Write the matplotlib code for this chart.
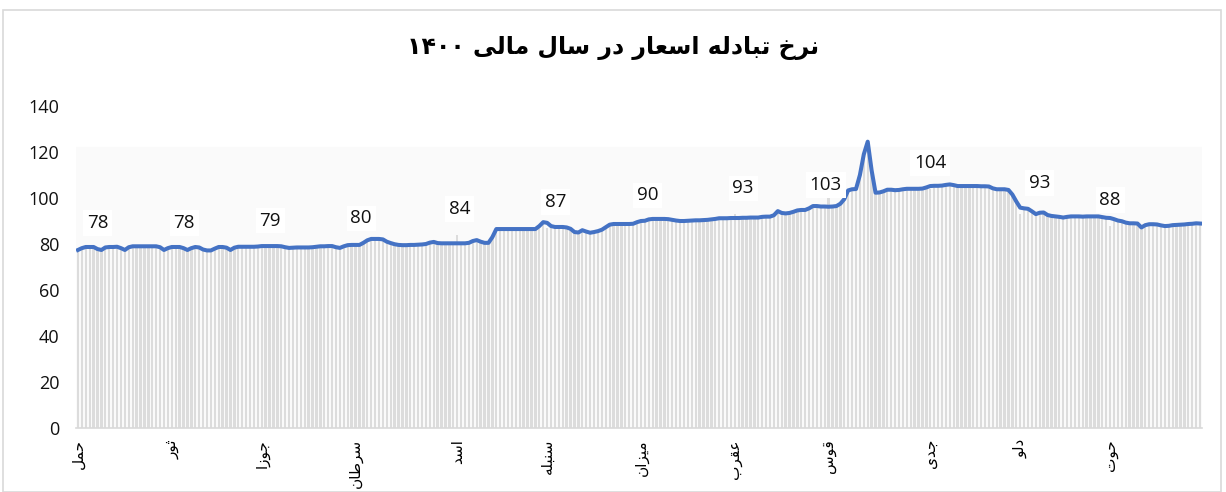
import re

import matplotlib
matplotlib.use("Agg")
import matplotlib.pyplot as plt
from matplotlib.patches import Rectangle
import numpy as np

# daily rate, one list per month
hamal = [77.4, 78.2, 78.7, 78.7, 78.7, 77.8, 77.4, 78.5, 78.7, 78.7, 78.8, 78.2,
         77.4, 78.6, 79.0, 79.0, 79.0, 79.0, 79.0, 79.0, 79.0, 78.6, 77.4, 78.2]
sawr = [78.7, 78.7, 78.7, 78.2, 77.4, 78.2, 78.7, 78.5, 77.6, 77.2, 77.2, 78.0,
        78.7, 78.7, 78.4, 77.4, 78.4, 78.8, 78.8, 78.8, 78.8, 78.8, 78.9]
jawza = [79.1, 79.1, 79.1, 79.1, 79.1, 79.0, 78.6, 78.3, 78.4, 78.5, 78.5, 78.5,
         78.5, 78.6, 78.8, 79.0, 79.0, 79.1, 79.1, 78.6, 78.3, 79.0, 79.5, 79.6]
saratan = [79.6, 79.6, 80.5, 81.6, 82.2, 82.2, 82.2, 82.0, 81.0, 80.4, 79.9, 79.6, 79.5,
           79.5, 79.6, 79.6, 79.7, 79.8, 80.0, 80.6, 80.9, 80.4, 80.3, 80.3, 80.3, 80.3]
asad = [80.3, 80.3, 80.3, 80.5, 81.3, 81.7, 81.0, 80.5, 80.5, 83.0, 86.5, 86.5,
        86.5, 86.5, 86.5, 86.5, 86.5, 86.5, 86.5, 86.5, 86.5, 87.8, 89.5]
sunbula = [89.2, 87.8, 87.4, 87.4, 87.4, 87.2, 86.6, 85.2, 85.0, 86.0, 85.4, 84.9,
           85.2, 85.6, 86.2, 87.3, 88.4, 88.7, 88.7, 88.7, 88.7, 88.7, 88.8, 89.5]
mizan = [90.0, 90.1, 90.7, 90.9, 90.9, 90.9, 90.9, 90.8, 90.5, 90.2, 90.0, 90.0,
         90.1, 90.2, 90.3, 90.3, 90.4, 90.5, 90.7, 90.9, 91.2, 91.2, 91.2, 91.3]
aqrab = [91.3, 91.3, 91.4, 91.4, 91.5, 91.5, 91.5, 91.8, 91.9, 91.9, 92.5, 94.3,
         93.5, 93.3, 93.5, 94.0, 94.6, 94.8, 94.8, 95.5, 96.5, 96.5, 96.3, 96.3]
qaws = [96.2, 96.3, 96.5, 97.5, 99.5, 103.3, 103.8, 103.9, 110.0, 119.0, 124.5, 112.0, 102.3,
        102.4, 102.9, 103.6, 103.6, 103.4, 103.5, 103.8, 104.0, 104.0, 104.0, 104.0, 104.1, 104.6]
jadi = [105.2, 105.3, 105.3, 105.4, 105.7, 105.9, 105.6, 105.2, 105.2, 105.2, 105.2, 105.2,
        105.2, 105.1, 105.1, 105.0, 104.2, 103.8, 103.8, 103.8, 103.5, 101.5, 98.5]
dalw = [95.8, 95.5, 95.3, 94.2, 93.0, 93.6, 93.7, 92.6, 92.2, 92.0, 91.8, 91.5,
        91.8, 92.0, 92.0, 92.0, 91.9, 92.0, 92.0, 92.0, 92.0, 91.7, 91.4]
hut = [91.3, 90.8, 90.2, 89.9, 89.3, 89.0, 89.0, 88.9, 87.2, 88.2, 88.6, 88.6,
       88.5, 88.1, 87.8, 87.9, 88.2, 88.3, 88.4, 88.5, 88.7, 88.8, 89.0, 88.9]

month_names = ["حمل", "ثور", "جوزا", "سرطان", "اسد", "سنبله",
               "میزان", "عقرب", "قوس", "جدی", "دلو", "حوت"]
month_avg = [78, 78, 79, 80, 84, 87, 90, 93, 103, 104, 93, 88]
title = "نرخ تبادله اسعار در سال مالی ۱۴۰۰"

months = [hamal, sawr, jawza, saratan, asad, sunbula,
          mizan, aqrab, qaws, jadi, dalw, hut]

# --- minimal arabic shaping (matplotlib has no complex text layout) ---
FORMS = {
    "ا": (0xFE8D, 0xFE8E), "د": (0xFEA9, 0xFEAA), "ذ": (0xFEAB, 0xFEAC),
    "ر": (0xFEAD, 0xFEAE), "ز": (0xFEAF, 0xFEB0), "و": (0xFEED, 0xFEEE),
    "ب": (0xFE8F, 0xFE90, 0xFE91, 0xFE92), "ت": (0xFE95, 0xFE96, 0xFE97, 0xFE98),
    "ث": (0xFE99, 0xFE9A, 0xFE9B, 0xFE9C), "ج": (0xFE9D, 0xFE9E, 0xFE9F, 0xFEA0),
    "ح": (0xFEA1, 0xFEA2, 0xFEA3, 0xFEA4), "خ": (0xFEA5, 0xFEA6, 0xFEA7, 0xFEA8),
    "س": (0xFEB1, 0xFEB2, 0xFEB3, 0xFEB4), "ط": (0xFEC1, 0xFEC2, 0xFEC3, 0xFEC4),
    "ع": (0xFEC9, 0xFECA, 0xFECB, 0xFECC), "ق": (0xFED5, 0xFED6, 0xFED7, 0xFED8),
    "ل": (0xFEDD, 0xFEDE, 0xFEDF, 0xFEE0), "م": (0xFEE1, 0xFEE2, 0xFEE3, 0xFEE4),
    "ن": (0xFEE5, 0xFEE6, 0xFEE7, 0xFEE8), "ه": (0xFEE9, 0xFEEA, 0xFEEB, 0xFEEC),
    "ی": (0xFBFC, 0xFBFD, 0xFBFE, 0xFBFF),
}


def shape(text):
    out = []
    for i, c in enumerate(text):
        if c not in FORMS:
            out.append(c)
            continue
        prev = text[i - 1] if i > 0 else ""
        nxt = text[i + 1] if i + 1 < len(text) else ""
        j_prev = prev in FORMS and len(FORMS[prev]) == 4
        j_next = nxt in FORMS and len(FORMS[c]) == 4
        f = FORMS[c]
        if j_prev and j_next:
            code = f[3]
        elif j_prev:
            code = f[1]
        elif j_next:
            code = f[2]
        else:
            code = f[0]
        out.append(chr(code))
    return "".join(out)


def rtl(text):
    rev = shape(text)[::-1]
    return re.sub(r"[0-9\u06F0-\u06F9]+", lambda m: m.group(0)[::-1], rev)


daily = np.concatenate(months)
starts = np.cumsum([0] + [len(m) for m in months[:-1]])
x = np.arange(len(daily))

bar_vals = daily.copy()
bar_vals[starts] = month_avg

fig = plt.figure(figsize=(12.26, 4.92), dpi=100)
ax = fig.add_axes([76 / 1226, 64 / 492, 1126 / 1226, 322 / 492])

ax.axhspan(0, 122, color="#fafafa", zorder=0)
ax.bar(x, bar_vals, width=0.6, color="#dcdcdc", zorder=1)
ax.plot(x, daily, color="#4472C4", lw=2.9, zorder=3, solid_joinstyle="round")

# label placement nudges (points), as in the original chart
label_dx = [14, 9, 6, 4, 2, 6, 5, 6, -2, 0, 14, 0]
label_dy = {8: -2, 10: 16}
for i, (s, v) in enumerate(zip(starts, month_avg)):
    ax.annotate(str(v), (s, v), xytext=(label_dx[i], label_dy.get(i, 12)),
                textcoords="offset points", ha="center", va="bottom", fontsize=13.5,
                family="Open Sans", color="#111111",
                bbox=dict(boxstyle="square,pad=0.2", fc="white", ec="none"), zorder=4)

ax.set_xlim(-0.5, len(daily) - 0.5)
ax.set_ylim(0, 140)
ax.set_yticks(range(0, 141, 20))
ax.set_xticks(starts)
ax.set_xticklabels([rtl(m) for m in month_names], rotation=90, va="top", ha="center",
                   fontsize=11, family="DejaVu Sans")
ax.tick_params(axis="x", length=0, pad=8)
ax.tick_params(axis="y", length=0, pad=12, labelsize=13, labelcolor="#111111")
for lab in ax.get_yticklabels():
    lab.set_family("Open Sans")
for side in ["top", "right", "left"]:
    ax.spines[side].set_visible(False)
ax.spines["bottom"].set_color("#d9d9d9")
ax.spines["bottom"].set_linewidth(1.2)

fig.text(0.5, 1 - 48 / 492, rtl(title), ha="center", va="center", fontsize=17,
         fontweight="bold", family="DejaVu Sans")

fig.patches.append(Rectangle((3 / 1226, 0), 1218 / 1226, 1 - 10 / 492, transform=fig.transFigure,
                             fill=False, ec="#d9d9d9", lw=1.2))

fig.savefig("out.png", dpi=100)
